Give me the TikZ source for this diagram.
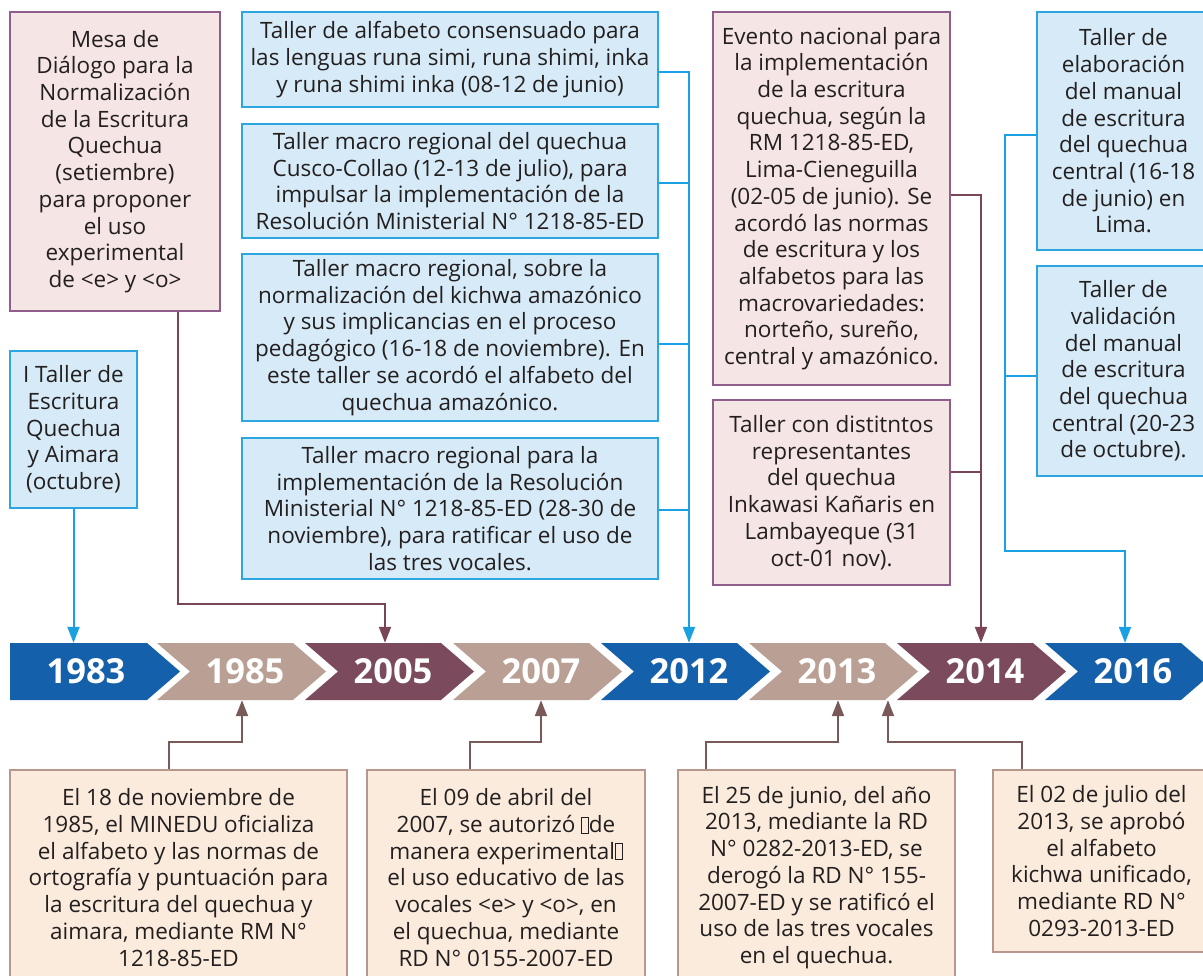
\documentclass[tikz,border=0pt]{standalone}
\usepackage{fontspec}
\setmainfont{Open Sans}
\usetikzlibrary{arrows.meta}

\definecolor{yearblue}{RGB}{20,96,170}
\definecolor{yeartan}{RGB}{186,160,148}
\definecolor{yearplum}{RGB}{123,74,92}
\definecolor{cyanline}{RGB}{27,161,226}
\definecolor{bluefill}{RGB}{214,234,248}
\definecolor{blueedge}{RGB}{44,166,224}
\definecolor{pinkfill}{RGB}{245,229,229}
\definecolor{plumedge}{RGB}{143,94,140}
\definecolor{plumline}{RGB}{122,69,86}
\definecolor{peachfill}{RGB}{251,235,221}
\definecolor{tanedge}{RGB}{184,151,140}
\definecolor{brownline}{RGB}{122,90,88}
\definecolor{ink}{RGB}{35,31,31}

% missing glyph as printed
\newcommand{\tofu}{{\setlength{\fboxsep}{0pt}\setlength{\fboxrule}{0.6pt}\fbox{\rule{0pt}{0.68em}\hspace{0.28em}}}}

\begin{document}
\begin{tikzpicture}[x=1pt, y=-1pt,
    box/.style={line width=2pt, align=center, inner sep=0pt, text=ink, font=\fontsize{22.5}{26.7}\selectfont},
    bluebox/.style={box, draw=blueedge, fill=bluefill},
    plumbox/.style={box, draw=plumedge, fill=pinkfill},
    peachbox/.style={box, draw=tanedge, fill=peachfill},
    yeartext/.style={text=white, inner sep=0pt, minimum height=57pt, font=\fontsize{34.5}{34.5}\selectfont\bfseries},
    cyanarrow/.style={draw=cyanline, line width=2pt, -{Triangle[length=16pt,width=12pt]}},
    plumarrow/.style={draw=plumline, line width=2pt, -{Triangle[length=16pt,width=12pt]}},
    brownarrow/.style={draw=brownline, line width=2pt, -{Triangle[length=16pt,width=12pt]}}]

    \useasboundingbox (0,0) rectangle (1203,976);

    % Year band
    \fill[yearblue] (10,643) -- (147,643) -- (180,671.5) -- (147,700) -- (10,700) -- cycle;
    \node[yeartext] (Year-1983) at (86,671.5) {1983};
    \foreach \yr/\col [count=\i] in {1985/yeartan,2005/yearplum,2007/yeartan,2012/yearblue,2013/yeartan,2014/yearplum,2016/yearblue}
    {
        \pgfmathsetmacro{\xl}{9+148*\i}
        \fill[\col] (\xl,643) -- ++(136,0) -- ++(33,28.5) -- ++(-33,28.5) -- ++(-136,0) -- ++(33,-28.5) -- cycle;
        \node[yeartext] (Year-\yr) at (\xl+88,671.5) {\yr};
    }

    % Boxes above the band
    \node[plumbox, minimum width=210pt, minimum height=299pt] (Mesa) at (115,161.5)
        {Mesa de\\Diálogo para la\\Normalización\\de la Escritura\\Quechua\\(setiembre)\\para proponer\\el uso\\experimental\\de <e> y <o>};
    \node[bluebox, minimum width=127pt, minimum height=157pt] (ITaller) at (73.5,429.5)
        {I Taller de\\Escritura\\Quechua\\y Aimara\\(octubre)};

    \node[bluebox, minimum width=416pt, minimum height=95pt] (Alfabeto) at (450,59.5)
        {Taller de alfabeto consensuado para\\las lenguas runa simi, runa shimi, inka\\y runa shimi inka (08-12 de junio)};
    \node[bluebox, minimum width=416pt, minimum height=114pt] (Cusco) at (450,181)
        {Taller macro regional del quechua\\Cusco-Collao (12-13 de julio), para\\impulsar la implementación de la\\Resolución Ministerial N° 1218-85-ED};
    \node[bluebox, minimum width=416pt, minimum height=167pt] (Kichwa) at (450,337.5)
        {Taller macro regional, sobre la\\normalización del kichwa amazónico\\y sus implicancias en el proceso\\pedagógico (16-18 de noviembre). En\\este taller se acordó el alfabeto del\\quechua amazónico.};
    \node[bluebox, minimum width=416pt, minimum height=141pt] (Vocales) at (450,508.5)
        {Taller macro regional para la\\implementación de la Resolución\\Ministerial N° 1218-85-ED (28-30 de\\noviembre), para ratificar el uso de\\las tres vocales.};

    \node[plumbox, minimum width=237pt, minimum height=373pt] (Evento) at (831.5,198.5)
        {Evento nacional para\\la implementación\\de la escritura\\quechua, según la\\RM 1218-85-ED,\\Lima-Cieneguilla\\(02-05 de junio). Se\\acordó las normas\\de escritura y los\\alfabetos para las\\macrovariedades:\\norteño, sureño,\\central y amazónico.};
    \node[plumbox, minimum width=237pt, minimum height=185pt] (Inkawasi) at (831.5,492.5)
        {Taller con distitntos\\representantes\\del quechua\\Inkawasi Kañaris en\\Lambayeque (31\\oct-01 nov).};

    \node[bluebox, minimum width=173pt, minimum height=238pt] (Elaboracion) at (1123.5,131)
        {Taller de\\elaboración\\del manual\\de escritura\\del quechua\\central (16-18\\de junio) en\\Lima.};
    \node[bluebox, minimum width=173pt, minimum height=210pt] (Validacion) at (1123.5,371)
        {Taller de\\validación\\del manual\\de escritura\\del quechua\\central (20-23\\de octubre).};

    % Boxes below the band
    \node[peachbox, minimum width=337pt, minimum height=215pt] (Oficializa) at (178.5,877.5)
        {El 18 de noviembre de\\1985, el MINEDU oficializa\\el alfabeto y las normas de\\ortografía y puntuación para\\la escritura del quechua y\\aimara, mediante RM N°\\1218-85-ED};
    \node[peachbox, minimum width=278pt, minimum height=215pt] (Autorizo) at (506,877.5)
        {El 09 de abril del\\2007, se autorizó \tofu de\\manera experimental\tofu\\el uso educativo de las\\vocales <e> y <o>, en\\el quechua, mediante\\RD N° 0155-2007-ED};
    \node[peachbox, minimum width=277pt, minimum height=215pt] (Derogo) at (816.5,877.5)
        {El 25 de junio, del año\\2013, mediante la RD\\N° 0282-2013-ED, se\\derogó la RD N° 155-\\2007-ED y se ratificó el\\uso de las tres vocales\\en el quechua.};
    \node[peachbox, minimum width=217pt, minimum height=182pt] (Unificado) at (1101.5,861)
        {El 02 de julio del\\2013, se aprobó\\el alfabeto\\kichwa unificado,\\mediante RD N°\\0293-2013-ED};

    % Connectors from above
    \draw[cyanarrow] (ITaller.south) -- (ITaller.south |- Year-1983.north);
    \draw[plumarrow] (Mesa.south -| 178,0) -- ++(0,292) -| (Year-2005.north -| 385,0);
    \draw[cyanarrow] (Alfabeto.east |- 0,72) -| (Year-2012.north -| 689,0);
    \foreach \b/\y in {Cusco/183, Kichwa/344, Vocales/510}
    {
        \draw[cyanline, line width=2pt] (\b.east |- 0,\y) -- ++(31,0);
    }
    \draw[plumarrow] (Evento.east |- 0,195) -| (Year-2014.north -| 981,0);
    \draw[plumline, line width=2pt] (Inkawasi.east |- 0,472) -- ++(31,0);
    \draw[cyanarrow] (Elaboracion.west |- 0,135) -- ++(-31,0) -- ++(0,416) -| (Year-2016.north -| 1125,0);
    \draw[cyanline, line width=2pt] (Validacion.west |- 0,376) -- ++(-31,0);

    % Connectors from below
    \draw[brownarrow] (Oficializa.north -| 169,0) -- ++(0,-27) -| (Year-1985.south -| 242,0);
    \draw[brownarrow] (Autorizo.north -| 470,0) -- ++(0,-27) -| (Year-2007.south -| 541,0);
    \draw[brownarrow] (Derogo.north -| 706,0) -- ++(0,-27) -| (Year-2013.south -| 838,0);
    \draw[brownarrow] (Unificado.north -| 1022,0) -- ++(0,-27) -| (Year-2013.south -| 888,0);

\end{tikzpicture}
\end{document}
